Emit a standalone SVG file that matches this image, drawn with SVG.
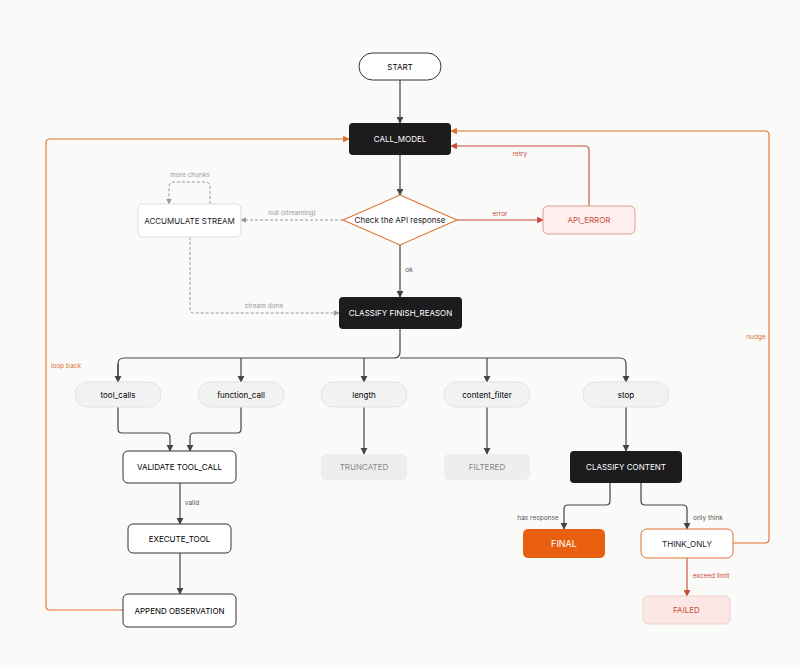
<svg xmlns="http://www.w3.org/2000/svg" width="800" height="667" viewBox="0 0 800 667">
<style>
text{font-family:Inter,"Liberation Sans",sans-serif;font-size:8px;text-anchor:middle;dominant-baseline:central}
.dark rect{fill:#1c1c1e}.dark text{fill:#fff}
.white rect{fill:#fff;stroke:#333;stroke-width:1}
.pill rect{fill:#f2f2f2;stroke:#e2e2e2}
.grey rect{fill:#eeeeef}.grey text{fill:#888}
.lbl{font-size:6.5px;fill:#555}
.c{fill:none;stroke:#444;stroke-width:1.2}
.o{fill:none;stroke:#e07030;stroke-width:1.1}
.r{fill:none;stroke:#c84a3a;stroke-width:1.1}
.d{fill:none;stroke:#999;stroke-width:1;stroke-dasharray:3 2}
</style>
<defs>
<marker id="a" viewBox="0 0 10 10" refX="9" refY="5" markerWidth="6" markerHeight="6" orient="auto"><path d="M0,0L10,5L0,10z" fill="#444"/></marker>
<marker id="ao" viewBox="0 0 10 10" refX="9" refY="5" markerWidth="6" markerHeight="6" orient="auto"><path d="M0,0L10,5L0,10z" fill="#e07030"/></marker>
<marker id="ar" viewBox="0 0 10 10" refX="9" refY="5" markerWidth="6" markerHeight="6" orient="auto"><path d="M0,0L10,5L0,10z" fill="#c84a3a"/></marker>
<marker id="ag" viewBox="0 0 10 10" refX="9" refY="5" markerWidth="6" markerHeight="6" orient="auto"><path d="M0,0L10,5L0,10z" fill="#999"/></marker>
</defs>
<rect width="800" height="667" fill="#fafaf9"/>
<g id="connectors">
<path class="c" marker-end="url(#a)" d="M400,80V123"/>
<path class="c" marker-end="url(#a)" d="M400,155V195"/>
<path class="c" marker-end="url(#a)" d="M400,245V297"/>
<text class="lbl" x="409" y="270">ok</text>
<path class="r" marker-end="url(#ar)" d="M457,220H543"/>
<text class="lbl" x="500" y="214" style="fill:#c84a3a">error</text>
<path class="r" marker-end="url(#ar)" d="M589,206V150Q589,146 585,146H451"/>
<text class="lbl" x="520" y="154" style="fill:#c84a3a">retry</text>
<path class="d" marker-end="url(#ag)" d="M343,220H241"/>
<text class="lbl" x="292" y="213" style="fill:#999">null (streaming)</text>
<path class="d" marker-end="url(#ag)" d="M210,204V187Q210,182 205,182H174Q169,182 169,187V204"/>
<text class="lbl" x="190" y="175" style="fill:#999">more chunks</text>
<path class="d" marker-end="url(#ag)" d="M190,237V309Q190,313 194,313H339"/>
<text class="lbl" x="264" y="306" style="fill:#999">stream done</text>
<path class="c" d="M400,329V352Q400,358 394,358H124Q118,358 118,364V382"/>
<path class="c" marker-end="url(#a)" d="M118,364V382"/>
<path class="c" marker-end="url(#a)" d="M241,358V382"/>
<path class="c" marker-end="url(#a)" d="M364,358V382"/>
<path class="c" marker-end="url(#a)" d="M487,358V382"/>
<path class="c" d="M400,358H620Q626,358 626,364"/>
<path class="c" marker-end="url(#a)" d="M626,364V382"/>
<path class="c" marker-end="url(#a)" d="M118,407V429Q118,433 122,433H166Q170,433 170,437V451"/>
<path class="c" marker-end="url(#a)" d="M241,407V429Q241,433 237,433H194Q190,433 190,437V451"/>
<path class="c" marker-end="url(#a)" d="M364,407V454"/>
<path class="c" marker-end="url(#a)" d="M487,407V454"/>
<path class="c" marker-end="url(#a)" d="M626,407V451"/>
<path class="c" marker-end="url(#a)" d="M180,483V524"/>
<text class="lbl" x="192" y="503">valid</text>
<path class="c" marker-end="url(#a)" d="M180,553V594"/>
<path class="c" marker-end="url(#a)" d="M610,483V501Q610,505 606,505H568Q564,505 564,509V529"/>
<text class="lbl" x="538" y="518">has response</text>
<path class="c" marker-end="url(#a)" d="M641,483V501Q641,505 645,505H683Q687,505 687,509V529"/>
<text class="lbl" x="708" y="518">only think</text>
<path class="r" marker-end="url(#ar)" d="M687,558V596"/>
<text class="lbl" x="711" y="576" style="fill:#c84a3a">exceed limit</text>
<path class="o" marker-end="url(#ao)" d="M123,610H50Q46,610 46,606V143Q46,139 50,139H349"/>
<text class="lbl" x="66" y="366" style="fill:#e07030">loop back</text>
<path class="o" marker-end="url(#ao)" d="M733,543H765Q769,543 769,539V135Q769,131 765,131H451"/>
<text class="lbl" x="756" y="337" style="fill:#e07030">nudge</text>
</g>
<g id="start" class="white"><rect x="359" y="53" width="82" height="27" rx="13.5"/><text x="400" y="67">START</text></g>
<g id="call_model" class="dark"><rect x="349" y="123" width="102" height="32" rx="4"/><text x="400" y="139">CALL_MODEL</text></g>
<g id="check"><polygon points="400,195 457,220 400,245 343,220" fill="#fff" stroke="#e07030" stroke-width="1.1"/><text x="400" y="220" style="fill:#222">Check the API response</text></g>
<g id="api_error"><rect x="543" y="206" width="92" height="28" rx="5" fill="#fdf0ee" stroke="#e09a90"/><text x="589" y="220" style="fill:#c84a3a">API_ERROR</text></g>
<g id="accumulate"><rect x="138" y="204" width="103" height="33" rx="5" fill="#fff" stroke="#ddd"/><text x="189.5" y="220.5" style="fill:#222">ACCUMULATE STREAM</text></g>
<g id="classify_finish" class="dark"><rect x="339" y="297" width="123" height="32" rx="4"/><text x="400.5" y="313">CLASSIFY FINISH_REASON</text></g>
<g id="tool_calls" class="pill"><rect x="75" y="382" width="86" height="25" rx="12.5"/><text x="118" y="394.5">tool_calls</text></g>
<g id="function_call" class="pill"><rect x="198" y="382" width="86" height="25" rx="12.5"/><text x="241" y="394.5">function_call</text></g>
<g id="length" class="pill"><rect x="321" y="382" width="86" height="25" rx="12.5"/><text x="364" y="394.5">length</text></g>
<g id="content_filter" class="pill"><rect x="444" y="382" width="86" height="25" rx="12.5"/><text x="487" y="394.5">content_filter</text></g>
<g id="stop" class="pill"><rect x="583" y="382" width="86" height="25" rx="12.5"/><text x="626" y="394.5">stop</text></g>
<g id="validate" class="white"><rect x="123" y="451" width="113" height="32" rx="5"/><text x="179.5" y="467">VALIDATE TOOL_CALL</text></g>
<g id="truncated" class="grey"><rect x="321" y="454" width="86" height="26" rx="5"/><text x="364" y="467">TRUNCATED</text></g>
<g id="filtered" class="grey"><rect x="444" y="454" width="86" height="26" rx="5"/><text x="487" y="467">FILTERED</text></g>
<g id="classify_content" class="dark"><rect x="570" y="451" width="112" height="32" rx="4"/><text x="626" y="467">CLASSIFY CONTENT</text></g>
<g id="execute" class="white"><rect x="128" y="524" width="103" height="29" rx="5"/><text x="179.5" y="538.5">EXECUTE_TOOL</text></g>
<g id="append" class="white"><rect x="123" y="594" width="113" height="33" rx="5"/><text x="179.5" y="610.5">APPEND OBSERVATION</text></g>
<g id="final"><rect x="523" y="529" width="82" height="29" rx="5" fill="#e8600f"/><text x="564" y="543.5" style="fill:#fff;font-size:9px">FINAL</text></g>
<g id="think_only"><rect x="641" y="529" width="92" height="29" rx="6" fill="#fff" stroke="#e07030"/><text x="687" y="543.5" style="fill:#222">THINK_ONLY</text></g>
<g id="failed"><rect x="643" y="596" width="87" height="28" rx="5" fill="#fbe8e5" stroke="#f0cfca"/><text x="686.5" y="610" style="fill:#c84a3a">FAILED</text></g>
</svg>
